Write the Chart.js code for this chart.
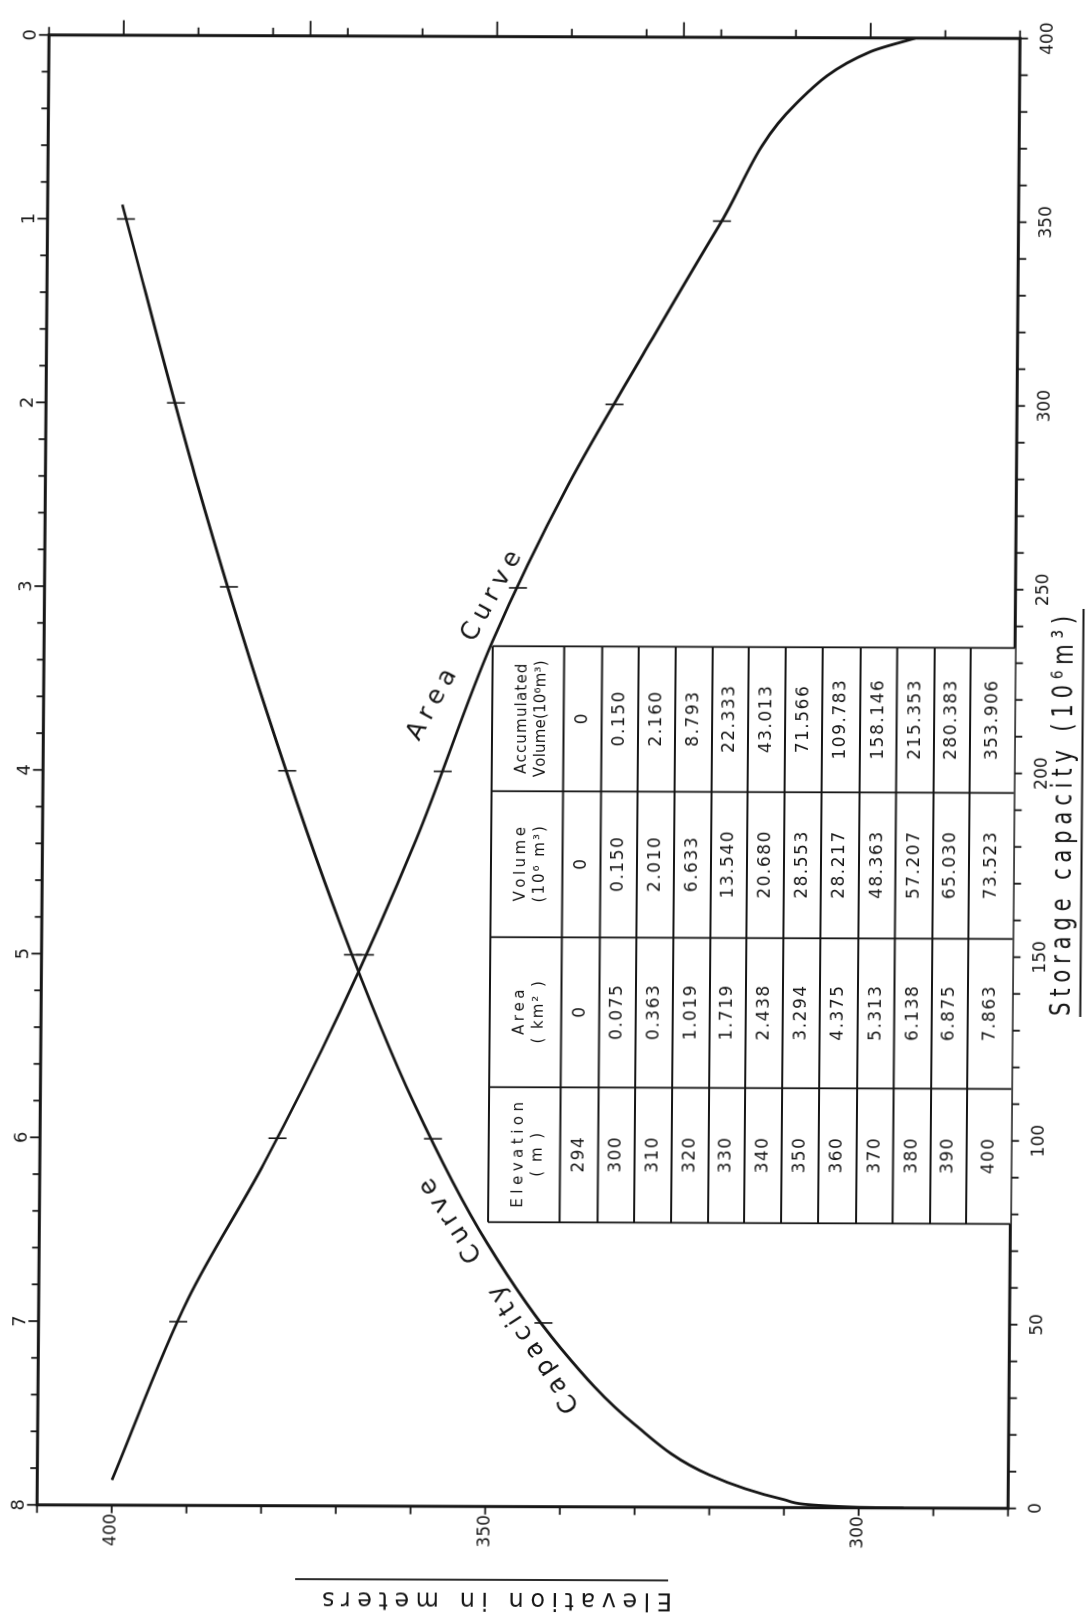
<!DOCTYPE html>
<html>
<head>
<meta charset="utf-8">
<script src="https://cdn.jsdelivr.net/npm/chart.js@4.4.1/dist/chart.umd.min.js"></script>
<style>
  html, body { margin: 0; padding: 0; background: #fff; width: 1090px; height: 1619px; overflow: hidden; }
  /* the sheet is laid out landscape and turned a quarter turn onto the page */
  #sheet { position: absolute; left: 0; top: 0; width: 1619px; height: 1090px;
           transform-origin: 0 0; transform: matrix(0.00815, -1, 1, 0.0036, -13.19, 1619); }
  canvas { display: block; }
</style>
</head>
<body>
<div id="sheet"><canvas id="chart" width="1619" height="1090"></canvas></div>
<script>
// Reservoir elevation - area - capacity data
const elevations = [294, 300, 310, 320, 330, 340, 350, 360, 370, 380, 390, 400];
const areasKm2 = [0, 0.075, 0.363, 1.019, 1.719, 2.438, 3.294, 4.375, 5.313, 6.138, 6.875, 7.863];
const volumes = [0, 0.150, 2.010, 6.633, 13.540, 20.680, 28.553, 28.217, 48.363, 57.207, 65.030, 73.523];
const accumulatedVolumes = [0, 0.150, 2.160, 8.793, 22.333, 43.013, 71.566, 109.783, 158.146, 215.353, 280.383, 353.906];

// Labelled ticks on each axis
const storageTickLabels = [0, 50, 100, 150, 200, 250, 300, 350, 400];
const areaTickLabels = [0, 1, 2, 3, 4, 5, 6, 7, 8];
const elevationTickLabels = [300, 350, 400];
// long marks on the right-hand elevation scale
const elevationLongMarks = [300, 325, 350, 375, 400];

// Cross marks on the curves at the whole grid divisions
const areaMarkAreas = [1, 2, 3, 4, 5, 6, 7];
const areaMarkElevations = [319.7, 333.9, 346.6, 356.5, 366.7, 378.2, 391.3];
const capacityMarkStorages = [50, 100, 150, 200, 250, 300, 350];
const capacityMarkElevations = [342.4, 357.4, 368.3, 377.3, 385.3, 392.6, 399.5];

const INK = '#161616';
const FONT = '"DejaVu Sans", "Liberation Sans", sans-serif';

const zip = (xs, ys) => xs.map((x, i) => ({ x: x, y: ys[i] }));
const near = (v, list) => list.some(t => Math.abs(t - v) < 1e-6);

// Draw a string character by character so that it spans a given width
function spacedText(ctx, text, x, y, width, align) {
  const chars = Array.from(text);
  const widths = chars.map(c => ctx.measureText(c).width);
  const natural = widths.reduce((a, b) => a + b, 0);
  const gap = chars.length > 1 ? (width - natural) / (chars.length - 1) : 0;
  let pos = align === 'center' ? x - width / 2 : (align === 'right' ? x - width : x);
  ctx.save();
  ctx.textAlign = 'left';
  chars.forEach((c, i) => { ctx.fillText(c, pos, y); pos += widths[i] + gap; });
  ctx.restore();
}
function trackedText(ctx, text, x, y, track) {
  const chars = Array.from(text);
  const natural = chars.reduce((a, c) => a + ctx.measureText(c).width, 0);
  spacedText(ctx, text, x, y, natural + track * (chars.length - 1), 'center');
}

// Table layout (sheet pixels)
const tableLayout = {
  colEdges: [398.7, 533.7, 683.7, 829.7, 974.7],
  top: 498,
  rowEdges: [569.5, 607.5, 644, 681, 718, 754, 791, 828, 866, 902.5, 940, 976],
  headerLines: [528, 547]
};
const tableHeaders = [
  ['Elevation', '( m )'],
  ['Area', '( km\u00B2 )'],
  ['Volume', '(10\u2076 m\u00B3)'],
  ['Accumulated', 'Volume(10\u2076m\u00B3)']
];
const fmt = v => (v === 0 ? '0' : v.toFixed(3));

// Text annotations anchored in data units (storage, elevation)
const curveLabels = [
  { text: 'Capacity  Curve', storage: 57.4, elevation: 348.3, angle: -33.3, width: 275 },
  { text: 'Area  Curve', storage: 234.2, elevation: 353.7, angle: 28.4, width: 212 }
];

const tickLen = {
  x: v => 8,
  x2: v => (near(v, areaTickLabels) ? 10 : 7),
  y: v => 8,
  y2: v => (near(v, elevationLongMarks) ? 15 : (Math.abs(v / 10 - Math.round(v / 10)) < 1e-6 ? 8 : 0))
};

const sheetPlugin = {
  id: 'sheet',
  afterDatasetsDraw(chart) {
    const ctx = chart.ctx;
    const ca = chart.chartArea;
    ctx.save();
    ctx.strokeStyle = INK;
    ctx.fillStyle = INK;
    ctx.lineCap = 'butt';

    // tick marks
    ctx.lineWidth = 1.8;
    ['x', 'x2', 'y', 'y2'].forEach(id => {
      const s = chart.scales[id];
      s.ticks.forEach(t => {
        const p = s.getPixelForValue(t.value);
        const L = tickLen[id](t.value);
        if (!L) return;
        ctx.beginPath();
        if (s.position === 'bottom') { ctx.moveTo(p, ca.bottom); ctx.lineTo(p, ca.bottom + L); }
        else if (s.position === 'top') { ctx.moveTo(p, ca.top); ctx.lineTo(p, ca.top - L); }
        else if (s.position === 'left') { ctx.moveTo(ca.left, p); ctx.lineTo(ca.left - L, p); }
        else { ctx.moveTo(ca.right, p); ctx.lineTo(ca.right + L, p); }
        ctx.stroke();
      });
    });

    // frame
    ctx.lineWidth = 3;
    ctx.strokeRect(ca.left, ca.top, ca.right - ca.left, ca.bottom - ca.top);

    // data table
    const T = tableLayout;
    const c = T.colEdges;
    ctx.fillStyle = '#fff';
    ctx.fillRect(c[0], T.top, c[4] - c[0], ca.bottom - T.top);
    ctx.fillStyle = INK;
    ctx.lineWidth = 1.8;
    ctx.beginPath();
    c.forEach(x => { ctx.moveTo(x, T.top); ctx.lineTo(x, ca.bottom); });
    [T.top].concat(T.rowEdges).forEach(y => { ctx.moveTo(c[0], y); ctx.lineTo(c[4], y); });
    ctx.stroke();

    ctx.textBaseline = 'middle';
    tableHeaders.forEach((h, i) => {
      const cx = (c[i] + c[i + 1]) / 2;
      if (i === 3) {
        ctx.font = '15px ' + FONT;
        trackedText(ctx, h[0], cx, T.headerLines[0], 1.2);
        trackedText(ctx, h[1], cx, T.headerLines[1], 0.2);
      } else {
        ctx.font = '15px ' + FONT;
        trackedText(ctx, h[0], cx, T.headerLines[0], i === 0 ? 4.5 : 3.5);
        trackedText(ctx, h[1], cx, T.headerLines[1], 2);
      }
    });
    const columns = [elevations.map(String), areasKm2.map(fmt), volumes.map(fmt), accumulatedVolumes.map(fmt)];
    const rowBounds = T.rowEdges.concat([ca.bottom]);
    ctx.font = '17px ' + FONT;
    columns.forEach((col, i) => {
      const cx = (c[i] + c[i + 1]) / 2;
      col.forEach((txt, r) => {
        const cy = (rowBounds[r] + rowBounds[r + 1]) / 2;
        trackedText(ctx, txt, cx, cy, 1.5);
      });
    });

    // curve names
    ctx.font = '25px ' + FONT;
    curveLabels.forEach(l => {
      const px = chart.scales.x.getPixelForValue(l.storage);
      const py = chart.scales.y.getPixelForValue(l.elevation);
      ctx.save();
      ctx.translate(px, py);
      ctx.rotate(l.angle * Math.PI / 180);
      spacedText(ctx, l.text, 0, 0, l.width, 'center');
      ctx.restore();
    });

    // axis titles (underlined)
    ctx.lineWidth = 1.8;
    ctx.save();
    ctx.translate(22, 510);
    ctx.rotate(-Math.PI / 2);
    ctx.font = '24px ' + FONT;
    spacedText(ctx, 'Elevation in meters', 0, 0, 350, 'center');
    ctx.beginPath(); ctx.moveTo(-171, 19); ctx.lineTo(202, 19); ctx.stroke();
    ctx.restore();

    ctx.save();
    ctx.translate(807, 1071);
    ctx.font = '25px ' + FONT;
    ctx.scale(0.85, 1.15);
    spacedText(ctx, 'Storage capacity (10\u2076m\u00B3)', 0, 0, 400 / 0.85, 'center');
    ctx.restore();
    ctx.beginPath(); ctx.moveTo(606, 1088.5); ctx.lineTo(1014, 1088.5); ctx.stroke();

    ctx.restore();
  }
};

const tickFont = size => ({ family: FONT, size: size });
const noGrid = { display: false, drawTicks: false };

new Chart(document.getElementById('chart'), {
  type: 'scatter',
  data: {
    datasets: [
      { label: 'Capacity Curve', data: zip(accumulatedVolumes, elevations), xAxisID: 'x', yAxisID: 'y',
        showLine: true, borderColor: INK, borderWidth: 2.8, pointRadius: 0, cubicInterpolationMode: 'monotone' },
      { label: 'Area Curve', data: zip(areasKm2, elevations), xAxisID: 'x2', yAxisID: 'y',
        showLine: true, borderColor: INK, borderWidth: 2.8, pointRadius: 0, cubicInterpolationMode: 'monotone' },
      { label: 'capacity marks', data: zip(capacityMarkStorages, capacityMarkElevations), xAxisID: 'x', yAxisID: 'y',
        showLine: false, pointStyle: 'line', pointRadius: 9, rotation: 90, borderColor: INK, borderWidth: 1.6 },
      { label: 'area marks', data: zip(areaMarkAreas, areaMarkElevations), xAxisID: 'x2', yAxisID: 'y',
        showLine: false, pointStyle: 'line', pointRadius: 9, rotation: 90, borderColor: INK, borderWidth: 1.6 }
    ]
  },
  options: {
    responsive: false,
    devicePixelRatio: 1,
    animation: false,
    events: [],
    layout: { padding: 0 },
    plugins: { legend: { display: false }, tooltip: { enabled: false } },
    scales: {
      x: {
        type: 'linear', position: 'bottom', min: 0, max: 400,
        grid: noGrid, border: { display: false },
        ticks: { stepSize: 10, autoSkip: false, maxRotation: 0, minRotation: 0, padding: 18.5, color: INK,
                 font: tickFont(17), callback: v => (near(v, storageTickLabels) ? String(Math.round(v)) : '') },
        afterFit: s => { s.height = 1090 - 1020.3; }
      },
      x2: {
        type: 'linear', position: 'top', reverse: true, min: 0, max: 8,
        grid: noGrid, border: { display: false },
        ticks: { stepSize: 0.2, autoSkip: false, maxRotation: 0, minRotation: 0, padding: 7, color: INK,
                 font: tickFont(18), callback: v => (near(v, areaTickLabels) ? String(Math.round(v)) : '') },
        afterFit: s => { s.height = 49.3; }
      },
      y: {
        type: 'linear', position: 'left', min: 280, max: 410,
        grid: noGrid, border: { display: false },
        ticks: { stepSize: 10, autoSkip: false, padding: 8.5, color: INK,
                 font: tickFont(17), callback: v => (near(v, elevationTickLabels) ? String(Math.round(v)) : '') },
        afterFit: s => { s.width = 114.3; }
      },
      y2: {
        type: 'linear', position: 'right', min: 280, max: 410,
        grid: noGrid, border: { display: false },
        ticks: { stepSize: 5, display: false },
        afterFit: s => { s.width = 1619 - 1588.5; }
      }
    }
  },
  plugins: [sheetPlugin]
});
</script>
</body>
</html>
